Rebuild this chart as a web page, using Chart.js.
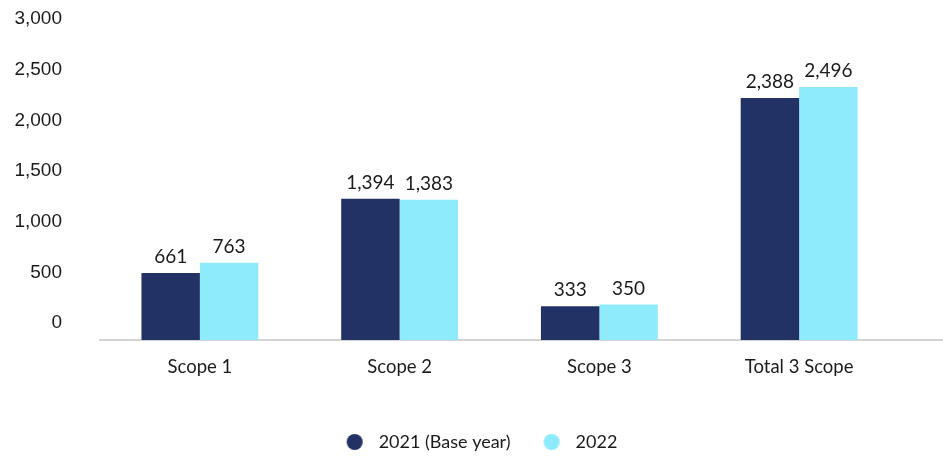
<!DOCTYPE html>
<html>
<head>
<meta charset="utf-8">
<script src="https://cdn.jsdelivr.net/npm/chart.js@4/dist/chart.umd.min.js"></script>
<style>
  html, body { margin: 0; padding: 0; background: #ffffff; }
  #wrap { width: 943px; height: 457px; }
</style>
</head>
<body>
<div id="wrap"><canvas id="chart" width="943" height="457"></canvas></div>
<script>
// Emissions by scope, base year vs. current year
const categories = ['Scope 1', 'Scope 2', 'Scope 3', 'Total 3 Scope'];
const seriesNames = ['2021 (Base year)', '2022'];
const values2021 = [661, 1394, 333, 2388];
const values2022 = [763, 1383, 350, 2496];
const yTickValues = [0, 500, 1000, 1500, 2000, 2500, 3000];

const NAVY = '#233264';
const CYAN = '#8EEBFB';
const TEXT = '#1b1b1b';
const AXIS = '#d4d4d4';
const LABEL_FONT = 'Lato, "Open Sans", sans-serif';

const fmt = v => v.toLocaleString('en-US');

// Legend marker: a round dot sitting at the right end of a wide sprite,
// so the marker box can be wide while the dot stays close to its text.
function dotSprite(color) {
  const c = document.createElement('canvas');
  c.width = 40; c.height = 18;
  const g = c.getContext('2d');
  g.fillStyle = color;
  g.beginPath();
  g.arc(28, 9, 8, 0, Math.PI * 2);
  g.fill();
  return c;
}

// Value labels above every bar
const valueLabels = {
  id: 'valueLabels',
  afterDatasetsDraw(chart) {
    const ctx = chart.ctx;
    ctx.save();
    ctx.font = '19px ' + LABEL_FONT;
    ctx.fillStyle = TEXT;
    ctx.textAlign = 'center';
    ctx.textBaseline = 'middle';
    chart.data.datasets.forEach((ds, i) => {
      const meta = chart.getDatasetMeta(i);
      meta.data.forEach((bar, j) => {
        ctx.fillText(fmt(ds.data[j]), bar.x, bar.y - 16);
      });
    });
    ctx.restore();
  }
};

// Carry the baseline on to the right edge of the canvas
const baselineRun = {
  id: 'baselineRun',
  afterDraw(chart) {
    const { ctx, chartArea, width } = chart;
    const y = chart.scales.x.top;
    ctx.save();
    ctx.strokeStyle = AXIS;
    ctx.lineWidth = 2;
    ctx.beginPath();
    ctx.moveTo(chartArea.right, y);
    ctx.lineTo(width, y);
    ctx.stroke();
    ctx.restore();
  }
};

new Chart(document.getElementById('chart'), {
  type: 'bar',
  data: {
    labels: categories,
    datasets: [
      { label: seriesNames[0], data: values2021, backgroundColor: NAVY, borderWidth: 0, yAxisID: 'y' },
      { label: seriesNames[1], data: values2022, backgroundColor: CYAN, borderWidth: 0, yAxisID: 'y' }
    ]
  },
  options: {
    responsive: false,
    animation: false,
    events: [],
    datasets: { bar: { barPercentage: 1, categoryPercentage: 0.585 } },
    layout: { padding: { left: 0, right: 2, top: 36, bottom: -4 } },
    scales: {
      x: {
        grid: { display: false, drawTicks: false },
        border: { display: true, color: AXIS, width: 2 },
        ticks: { color: TEXT, font: { family: LABEL_FONT, size: 18.5 }, padding: 16 },
        afterFit(s) { s.height = 83; }
      },
      y: {
        min: 0,
        max: 3000,
        grid: { display: false, drawTicks: false },
        border: { display: false },
        afterBuildTicks(s) { s.ticks = yTickValues.map(v => ({ value: v })); },
        ticks: {
          color: TEXT,
          font: { family: '"Liberation Sans", Arial, sans-serif', size: 19 },
          padding: 38,
          labelOffset: -17,
          callback: v => fmt(v)
        },
        afterFit(s) {
          s.width = 100;
          s.paddingTop = 0;
          s.paddingBottom = 0;
        }
      },
      // blank margin strip on the right, under the baseline run
      yRight: {
        position: 'right',
        min: 0,
        max: 3000,
        grid: { display: false, drawTicks: false },
        border: { display: false },
        ticks: { display: false },
        afterFit(s) { s.width = 42; }
      }
    },
    plugins: {
      tooltip: { enabled: false },
      legend: {
        position: 'bottom',
        fullSize: true,
        labels: {
          color: TEXT,
          font: { family: LABEL_FONT, size: 18 },
          usePointStyle: true,
          pointStyleWidth: 46,
          boxHeight: 18,
          padding: 10,
          generateLabels(chart) {
            return chart.data.datasets.map((ds, i) => ({
              text: ds.label,
              fillStyle: ds.backgroundColor,
              strokeStyle: ds.backgroundColor,
              lineWidth: 0,
              pointStyle: dotSprite(ds.backgroundColor),
              fontColor: TEXT,
              hidden: false,
              datasetIndex: i
            }));
          }
        }
      }
    }
  },
  plugins: [valueLabels, baselineRun]
});
</script>
</body>
</html>
